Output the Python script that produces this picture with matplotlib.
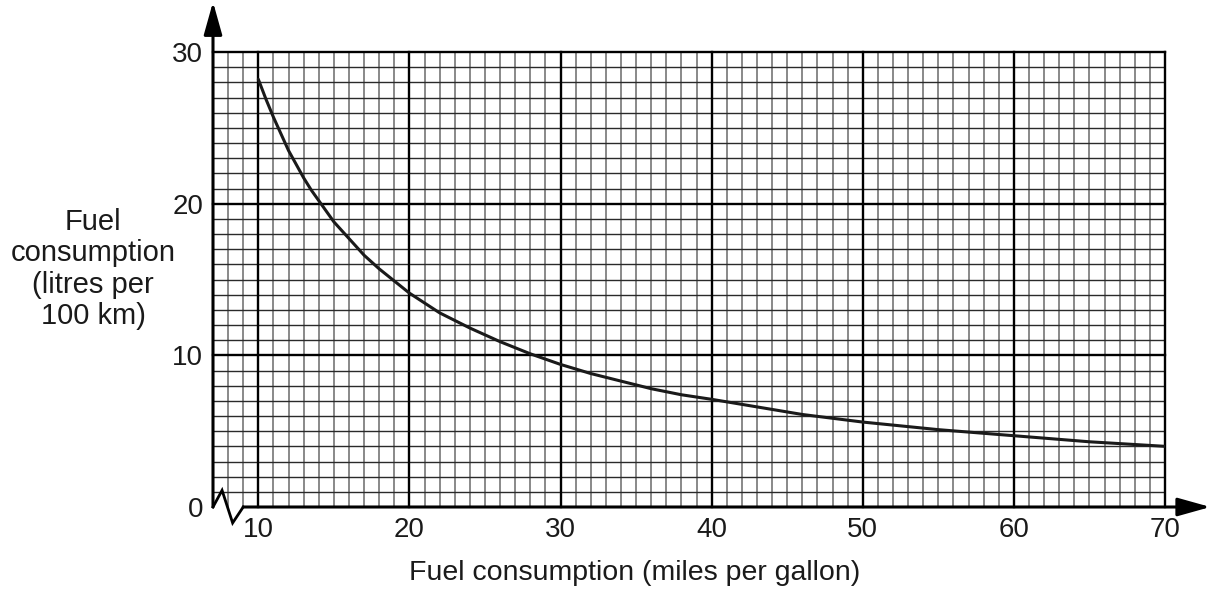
import matplotlib.pyplot as plt

plt.rcParams['font.family'] = ['Liberation Sans', 'DejaVu Sans']

# values
mpg = [10, 10.5, 11, 11.5, 12, 12.5, 13, 13.5, 14, 15, 16, 17, 18, 19, 20,
       22, 24, 26, 28, 30, 32, 34, 36, 38, 40, 43, 46, 50, 55, 60, 65, 70]
litres = [28.2, 26.9, 25.7, 24.6, 23.5, 22.6, 21.7, 20.9, 20.2, 18.8, 17.7,
          16.6, 15.7, 14.9, 14.1, 12.8, 11.8, 10.9, 10.1, 9.4, 8.8, 8.3,
          7.8, 7.4, 7.1, 6.6, 6.1, 5.6, 5.1, 4.7, 4.3, 4.0]

x_ticks = [10, 20, 30, 40, 50, 60, 70]
y_ticks = [0, 10, 20, 30]

X_MIN, X_MAX = 7, 70
Y_MIN, Y_MAX = 0, 30

fig = plt.figure(figsize=(12.12, 5.95), dpi=100)
ax = fig.add_axes([213 / 1212, 1 - 507 / 595, 952 / 1212, 455 / 595])
ax.set_xlim(X_MIN, X_MAX)
ax.set_ylim(Y_MIN, Y_MAX)
for s in ax.spines.values():
    s.set_visible(False)

# graph paper
for x in range(X_MIN + 1, X_MAX):
    if x % 10:
        ax.axvline(x, color='#6a6a6a', lw=1.1, zorder=1)
for y in range(Y_MIN + 1, Y_MAX):
    if y % 10:
        ax.axhline(y, color='#2a2a2a', lw=1.0, zorder=1)
for x in x_ticks:
    ax.axvline(x, color='black', lw=1.7, zorder=2, clip_on=False)
for y in y_ticks[1:]:
    ax.axhline(y, color='black', lw=1.7, zorder=2, clip_on=False)

# axes with arrows and the break on the x axis
arrow = dict(arrowstyle='-|>,head_length=1.0,head_width=0.28', color='black',
             lw=2.2, shrinkA=0, shrinkB=0, mutation_scale=20)
ax.annotate('', xy=(X_MIN, 33.3), xytext=(X_MIN, Y_MIN),
            arrowprops=arrow, annotation_clip=False, zorder=4)
ax.annotate('', xy=(73.0, Y_MIN), xytext=(9, Y_MIN),
            arrowprops=arrow, annotation_clip=False, zorder=4)
ax.plot([7, 7.6, 8.3, 9], [0, 1.1, -1.05, 0], color='black', lw=2.0,
        clip_on=False, zorder=4, solid_joinstyle='miter')

ax.plot(mpg, litres, color='#1a1a1a', lw=2.2, zorder=5,
        solid_joinstyle='round', solid_capstyle='round')

ax.set_xticks(x_ticks)
ax.set_yticks(y_ticks)
ax.tick_params(length=0, labelsize=20, colors='#1a1a1a')
ax.tick_params(axis='x', pad=7)
ax.tick_params(axis='y', pad=7)

ax.set_xlabel('Fuel consumption (miles per gallon)', fontsize=20.5, color='#1a1a1a')
ax.xaxis.set_label_coords(0.443, -0.117)
ax.set_ylabel('Fuel\nconsumption\n(litres per\n100 km)', fontsize=21,
              rotation=0, ha='center', va='center', linespacing=1.15,
              color='#1a1a1a')
ax.yaxis.set_label_coords(-0.126, 0.523)

fig.savefig('out.png', dpi=100)
